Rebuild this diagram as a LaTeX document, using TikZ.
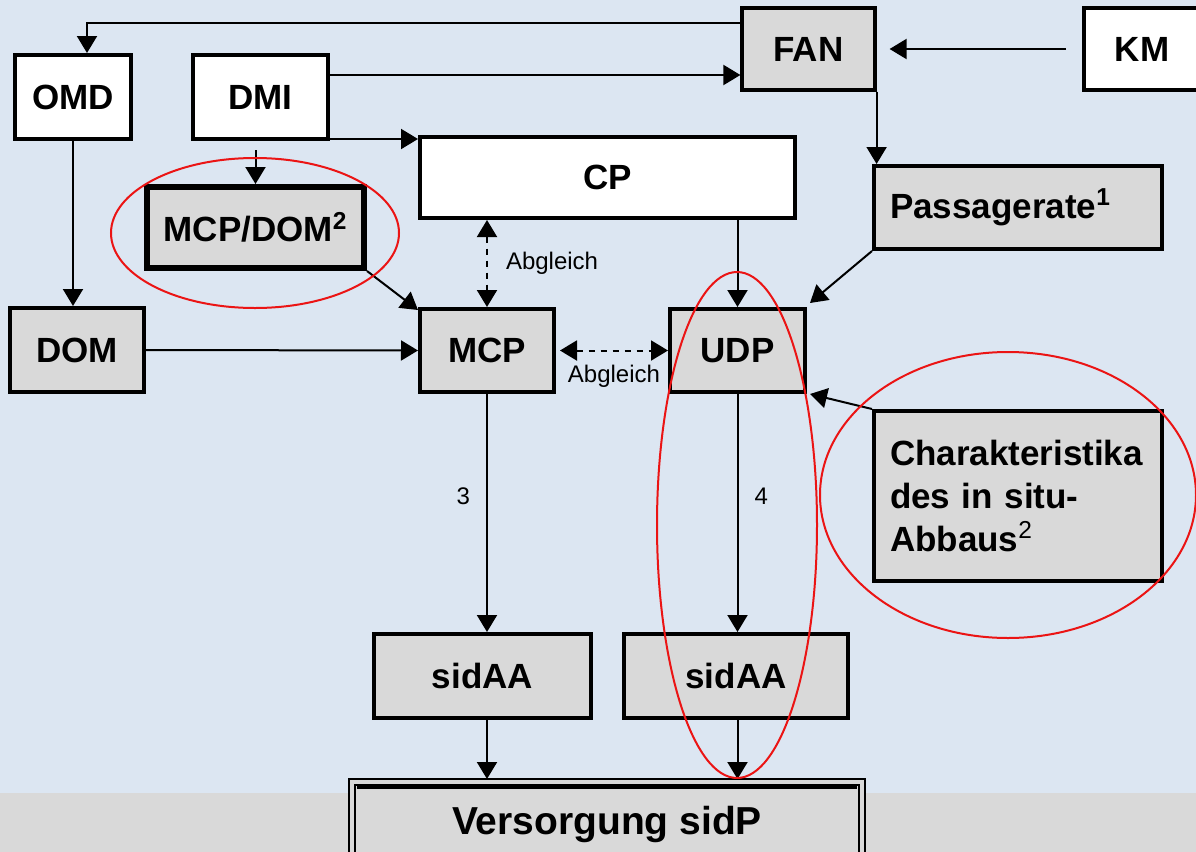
\documentclass[tikz,border=0pt]{standalone}
\usepackage{fontspec}
\setmainfont{Liberation Sans}
\usepackage{xcolor}
\usetikzlibrary{arrows.meta, positioning, calc}
\definecolor{BgBlue}{RGB}{220, 230, 242}
\definecolor{BoxGray}{RGB}{217, 217, 217}
\definecolor{MarkRed}{RGB}{235, 20, 20}

\tikzset{
  box/.style={draw=black, line width=2pt, inner sep=0pt, align=center,
              font=\fontsize{17.5}{21.5}\selectfont\bfseries},
  whitebox/.style={box, fill=white},
  graybox/.style={box, fill=BoxGray},
  arr/.style={line width=1pt, -{Triangle[length=8.5pt, width=10pt]}},
  syncarr/.style={line width=1pt, dashed, {Triangle[length=8.5pt, width=10pt]}-{Triangle[length=8.5pt, width=10pt]}},
  smalllabel/.style={font=\fontsize{12}{14}\selectfont, inner sep=2pt},
  redring/.style={draw=MarkRed, line width=1pt}
}

\begin{document}
\begin{tikzpicture}[x=0.5pt, y=-0.5pt]
  \useasboundingbox (0,0) rectangle (1196,852);
  \fill[BgBlue] (0,0) rectangle (1196,852);
  \fill[BoxGray] (0,793) rectangle (1196,852);

  % sources
  \node[whitebox, minimum width=58pt, minimum height=42pt] (omd) at (73,97) {OMD};
  \node[whitebox, minimum width=67.5pt, minimum height=42pt] (dmi) at (260.5,97) {DMI};
  \node[graybox, line width=1.6pt, minimum width=66.5pt, minimum height=41pt] (fan) at (808.5,49) {FAN};
  \node[whitebox, minimum width=58pt, minimum height=41pt] (km) at (1142,49) {KM};
  \node[whitebox, minimum width=187.5pt, minimum height=40.5pt] (cp) at (607.5,177.5) {CP};
  \node[graybox, line width=3pt, minimum width=108.5pt, minimum height=40.5pt] (mcpdom) at (255.5,227.5) {MCP/DOM\textsuperscript{2}};
  \node[graybox, minimum width=144pt, minimum height=41.5pt, text width=128pt, align=left] (pass) at (1018,207.5) {Passagerate\textsuperscript{1}};

  % middle row
  \node[graybox, minimum width=67pt, minimum height=42pt] (dom) at (77,350) {DOM};
  \node[graybox, minimum width=67pt, minimum height=41.5pt] (mcp) at (487,350.5) {MCP};
  \node[graybox, minimum width=67.5pt, minimum height=41.5pt] (udp) at (737.5,350.5) {UDP};
  \node[graybox, minimum width=144pt, minimum height=85pt, text width=128pt, align=left] (char) at (1018,496)
    {Charakteristika\\des in situ-\\Abbaus\textsuperscript{\normalfont 2}};

  % results
  \node[graybox, minimum width=108.5pt, minimum height=42pt] (sidaa1) at (482.5,676) {sidAA};
  \node[graybox, minimum width=112pt, minimum height=42pt] (sidaa2) at (736,676) {sidAA};
  \node[box, fill=BoxGray, line width=1pt, double=BoxGray, double distance=1.8pt,
        minimum width=255pt, minimum height=42pt, font=\fontsize{19.5}{23}\selectfont\bfseries] (supply) at (607,824) {Versorgung sidP};
  \draw[line width=1.5pt] ([shift={(3pt,-3pt)}]supply.north west) -- ([shift={(-3pt,-3pt)}]supply.north east);

  % connectors
  \draw[arr] ([yshift=-8.5pt]fan.north west) -| ([xshift=7pt]omd.north);
  \draw[arr] ([yshift=11pt]dmi.east) -- ([yshift=11pt]dmi.east -| fan.west);
  \draw[arr] ([yshift=1pt]dmi.south east) -- ([yshift=1pt]dmi.south east -| cp.north west);
  \draw[arr] ([yshift=-4.5pt]dmi.south -| mcpdom.north) -- (mcpdom.north);
  \draw[arr] (omd.south) -- (omd.south |- dom.north);
  \draw[arr] ([xshift=-8pt]km.west) -- ([xshift=6.5pt]fan.east);
  \draw[arr] (fan.south east) -- (fan.south east |- pass.north);
  \draw[arr] (pass.south west) -- ([shift={(1.5pt,2pt)}]udp.north east);
  \draw[arr] (udp.north |- cp.south) -- (udp.north);
  \draw[syncarr] (mcp.north |- cp.south) -- (mcp.north)
    node[midway, right=7pt, smalllabel] {Abgleich};
  \draw[arr] (mcpdom.south east) -- ([yshift=-1.5pt]mcp.north west);
  \draw[arr] (dom.east) -- (mcp.west);
  \draw[syncarr] ([xshift=2pt]mcp.east) -- (udp.west)
    node[midway, below=5pt, smalllabel] {Abgleich};
  \draw[arr] (char.north west) -- ([xshift=1.5pt]udp.south east);
  \draw[arr] (mcp.south) -- (mcp.south |- sidaa1.north)
    node[pos=0.43, left=6pt, smalllabel] {3};
  \draw[arr] (udp.south) -- (udp.south |- sidaa2.north)
    node[pos=0.43, right=6pt, smalllabel] {4};
  \draw[arr] (sidaa1.south -| mcp.south) -- ([yshift=1pt]supply.north -| mcp.south);
  \draw[arr] (sidaa2.south -| udp.south) -- ([yshift=1pt]supply.north -| udp.south);

  % red marks
  \draw[redring] (255,233) ellipse [x radius=72pt, y radius=37.5pt];
  \draw[redring] (737,525) ellipse [x radius=40pt, y radius=126.5pt];
  \draw[redring] (1008,495) ellipse [x radius=94pt, y radius=71.5pt];
\end{tikzpicture}
\end{document}
